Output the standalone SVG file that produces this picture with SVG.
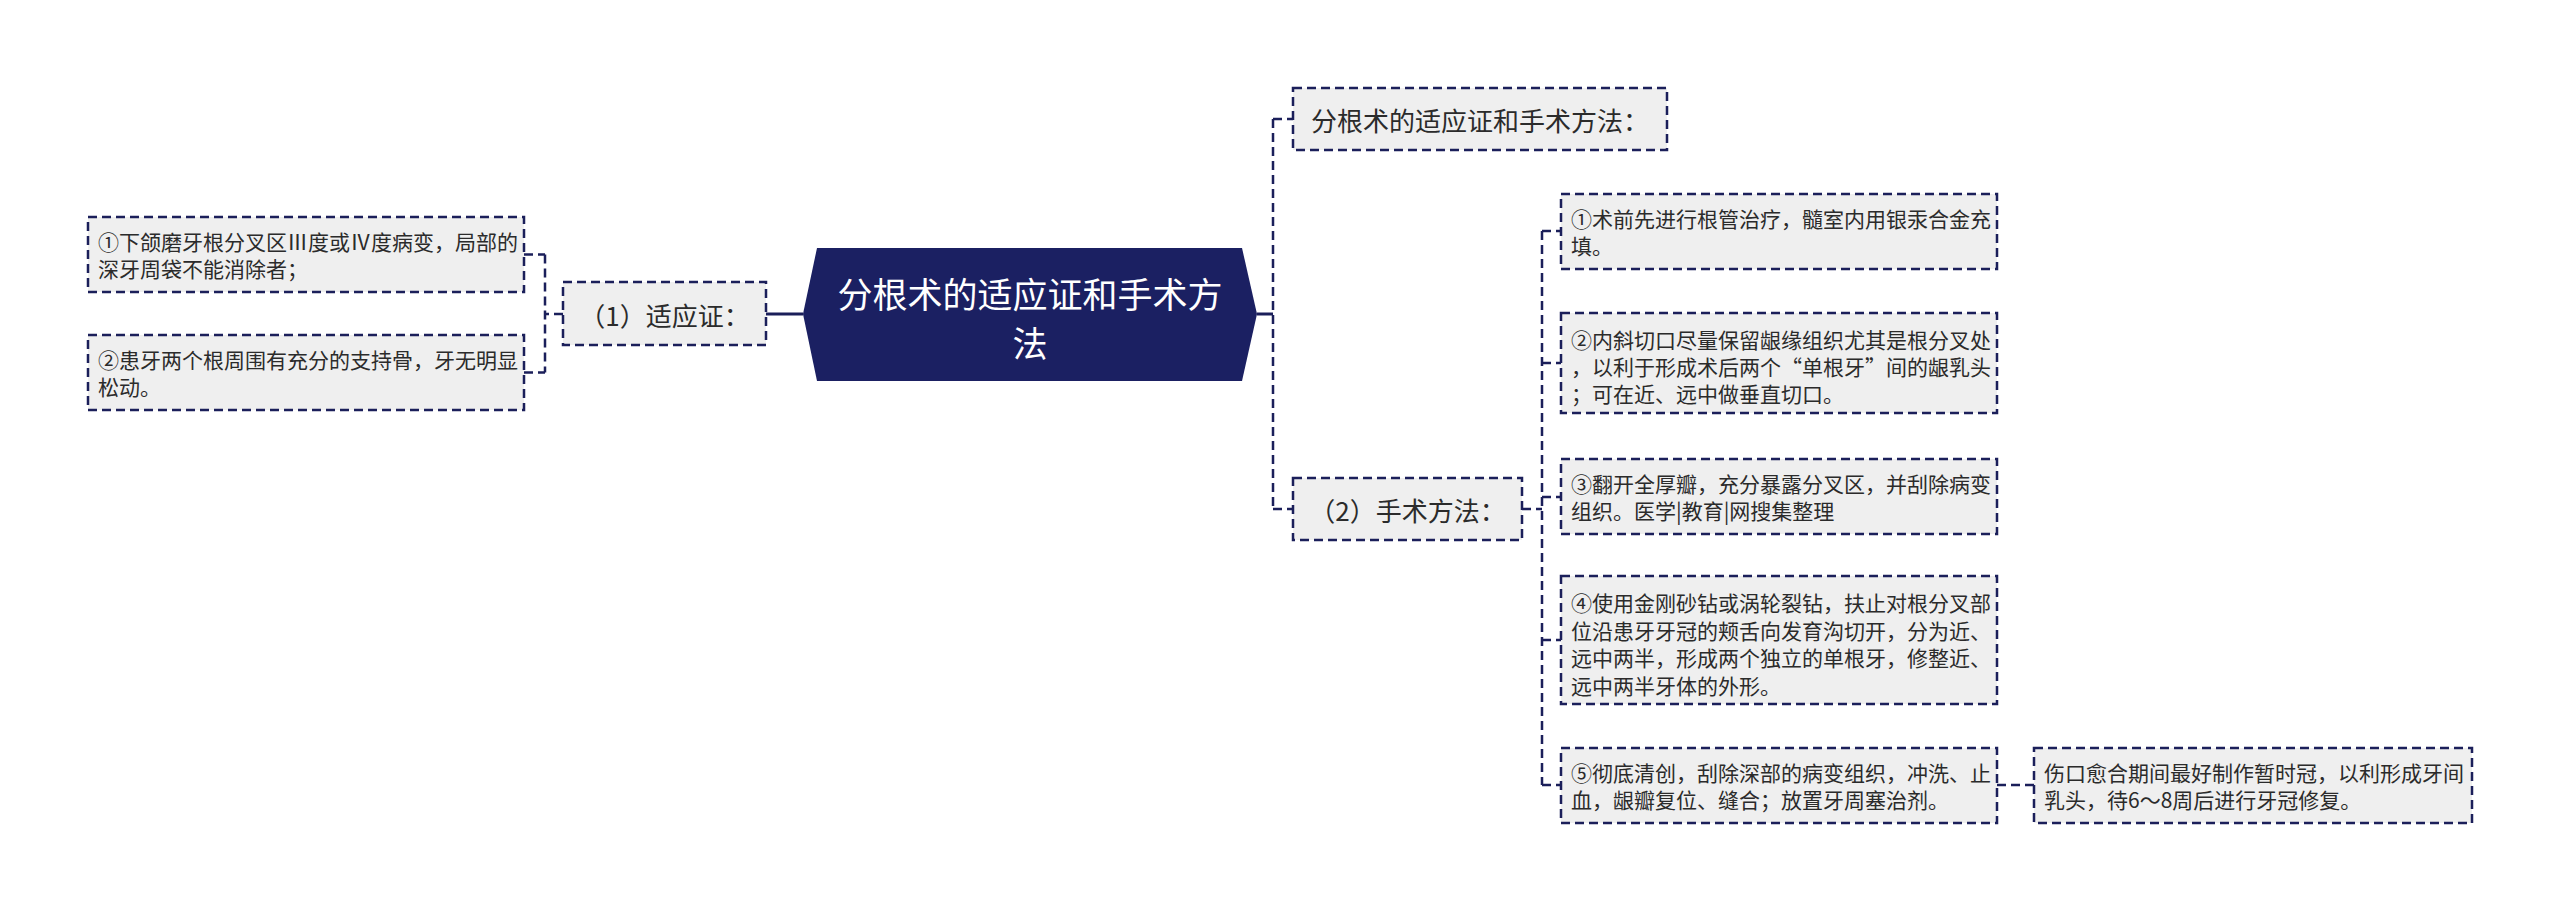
<svg xmlns="http://www.w3.org/2000/svg" width="2560" height="913" viewBox="0 0 2560 913">
<style>
.box{fill:#efefef;stroke:#1b1f5a;stroke-width:2.5;stroke-dasharray:9 5}
.con{fill:none;stroke:#1b1f5a;stroke-width:2.5;stroke-dasharray:9 5}
.solid{fill:none;stroke:#1b1f5a;stroke-width:3}
.t{font-family:"Noto Sans CJK SC","Noto Sans",sans-serif;font-size:21px;fill:#2b2b2b;dominant-baseline:central}
.m{font-family:"Noto Sans CJK SC","Noto Sans",sans-serif;font-size:26px;fill:#2b2b2b;dominant-baseline:central;text-anchor:middle}
.c{font-family:"Noto Sans CJK SC","Noto Sans",sans-serif;font-size:35px;fill:#ffffff;dominant-baseline:central;text-anchor:middle}
</style>
<rect width="2560" height="913" fill="#ffffff"/>
<g id="connectors">
<path class="solid" d="M766 314 H803"/>
<path class="con" d="M563 314 H545 M545 254.5 V372.5 M524 254.5 H545 M524 372.5 H545"/>
<path class="solid" d="M1257 314 H1273"/>
<path class="con" d="M1273 119 V509 M1273 119 H1293 M1273 509 H1293"/>
<path class="con" d="M1522 509 H1542 M1542 231 V785 M1542 231 H1561 M1542 363 H1561 M1542 497 H1561 M1542 640 H1561 M1542 785 H1561"/>
<path class="con" d="M1997 785 H2034"/>
</g>
<g id="center">
<polygon points="803,314 817,248 1242,248 1257,314 1242,381 817,381" fill="#1b2062"/>
<text class="c" x="1030" y="292">分根术的适应证和手术方</text>
<text class="c" x="1030" y="341">法</text>
</g>
<g id="n-indication">
<rect class="box" x="563" y="282" width="203" height="63"/>
<text class="m" x="664.5" y="314">（1）适应证：</text>
</g>
<g id="n-ind-1">
<rect class="box" x="88" y="217" width="436" height="75"/>
<text class="t" x="98" y="241">①下颌磨牙根分叉区Ⅲ度或Ⅳ度病变，局部的</text>
<text class="t" x="98" y="268">深牙周袋不能消除者；</text>
</g>
<g id="n-ind-2">
<rect class="box" x="88" y="335" width="436" height="75"/>
<text class="t" x="98" y="359">②患牙两个根周围有充分的支持骨，牙无明显</text>
<text class="t" x="98" y="386">松动。</text>
</g>
<g id="n-title">
<rect class="box" x="1293" y="88" width="374" height="62"/>
<text class="m" x="1480" y="119">分根术的适应证和手术方法：</text>
</g>
<g id="n-method">
<rect class="box" x="1293" y="478" width="229" height="62"/>
<text class="m" x="1407.5" y="509">（2）手术方法：</text>
</g>
<g id="n-m1">
<rect class="box" x="1561" y="194" width="436" height="75"/>
<text class="t" x="1571" y="218">①术前先进行根管治疗，髓室内用银汞合金充</text>
<text class="t" x="1571" y="245">填。</text>
</g>
<g id="n-m2">
<rect class="box" x="1561" y="313" width="436" height="100"/>
<text class="t" x="1571" y="339">②内斜切口尽量保留龈缘组织尤其是根分叉处</text>
<text class="t" x="1571" y="366">，以利于形成术后两个“单根牙”间的龈乳头</text>
<text class="t" x="1571" y="393">；可在近、远中做垂直切口。</text>
</g>
<g id="n-m3">
<rect class="box" x="1561" y="459" width="436" height="75"/>
<text class="t" x="1571" y="483">③翻开全厚瓣，充分暴露分叉区，并刮除病变</text>
<text class="t" x="1571" y="510">组织。医学|教育|网搜集整理</text>
</g>
<g id="n-m4">
<rect class="box" x="1561" y="576" width="436" height="128"/>
<text class="t" x="1571" y="602">④使用金刚砂钻或涡轮裂钻，扶止对根分叉部</text>
<text class="t" x="1571" y="629.5">位沿患牙牙冠的颊舌向发育沟切开，分为近、</text>
<text class="t" x="1571" y="657">远中两半，形成两个独立的单根牙，修整近、</text>
<text class="t" x="1571" y="684.5">远中两半牙体的外形。</text>
</g>
<g id="n-m5">
<rect class="box" x="1561" y="748" width="436" height="75"/>
<text class="t" x="1571" y="772">⑤彻底清创，刮除深部的病变组织，冲洗、止</text>
<text class="t" x="1571" y="799">血，龈瓣复位、缝合；放置牙周塞治剂。</text>
</g>
<g id="n-m5-note">
<rect class="box" x="2034" y="748" width="438" height="75"/>
<text class="t" x="2044" y="772">伤口愈合期间最好制作暂时冠，以利形成牙间</text>
<text class="t" x="2044" y="799">乳头，待6～8周后进行牙冠修复。</text>
</g>
</svg>
